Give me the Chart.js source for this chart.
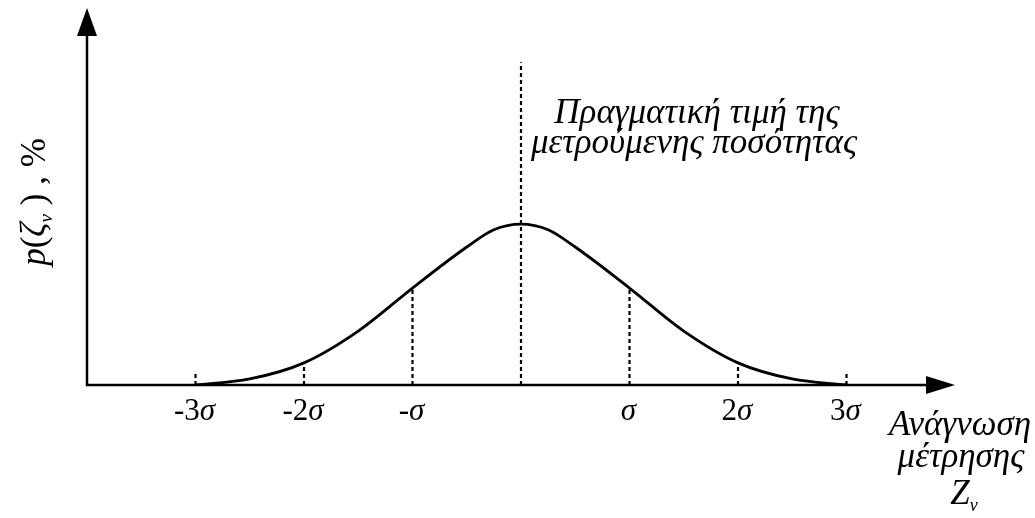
<!DOCTYPE html>
<html>
<head>
<meta charset="utf-8">
<script src="https://cdn.jsdelivr.net/npm/chart.js@4.4.1/dist/chart.umd.min.js"></script>
<style>
  body { margin: 0; background: #fff; }
  #wrap { width: 1035px; height: 518px; position: relative; }
</style>
</head>
<body>
<div id="wrap"><canvas id="bell"></canvas></div>
<script>
// reading position in units of sigma, and probability density (%)
const sigmaPos = [-3, -2.5, -2, -1.5, -1, -0.5, -0.25, 0, 0.25, 0.5, 1, 1.5, 2, 2.5, 3];
const density = [0, 1.5, 5.5, 13.4, 24.1, 34.3, 38.6, 40, 38.6, 34.3, 24.1, 13.4, 5.5, 1.5, 0];

// dashed guides: where they stand and how high they reach
const guideX = [-3, -2, -1, 0, 1, 2, 3];
const guideTop = [3, 5.5, 24.1, 80.2, 24.1, 5.5, 3];

// tick labels under the axis (number part, sigma part)
const tickNum = ['-3', '-2', '-', '', '', '2', '3'];
const tickSym = ['σ', 'σ', 'σ', '', 'σ', 'σ', 'σ'];

const annotLines = ['Πραγματική τιμή της', 'μετρούμενης ποσότητας'];
const xTitleLines = ['Ανάγνωση', 'μέτρησης'];

const SERIF = '"Liberation Serif", "Times New Roman", serif';

const guideSets = guideX.map((gx, i) => ({
  data: [{ x: gx, y: 0 }, { x: gx, y: guideTop[i] }],
  showLine: true,
  borderColor: '#000',
  borderWidth: 2.2,
  borderDash: [4, 3],
  pointRadius: 0,
  fill: false
}));

// draws text pieces in sequence, mixing roman/italic and subscripts
function drawPieces(ctx, pieces, x, y, align) {
  let total = 0;
  pieces.forEach(p => {
    ctx.font = p.font;
    p.w = ctx.measureText(p.t).width;
    total += p.w;
  });
  let cx = align === 'center' ? x - total / 2 : x;
  pieces.forEach(p => {
    ctx.font = p.font;
    ctx.fillText(p.t, cx, y + (p.dy || 0));
    cx += p.w;
  });
}

const axesPlugin = {
  id: 'axesPlugin',
  afterDraw(chart) {
    const ctx = chart.ctx;
    const xs = chart.scales.x, ys = chart.scales.y;
    const x0 = xs.getPixelForValue(-4);
    const x1 = xs.getPixelForValue(4);
    const y0 = ys.getPixelForValue(0);
    const y1 = ys.getPixelForValue(ys.max);
    ctx.save();
    ctx.strokeStyle = '#000';
    ctx.fillStyle = '#000';
    ctx.lineWidth = 2.5;
    // axis lines
    ctx.beginPath();
    ctx.moveTo(x0, y1 + 27);
    ctx.lineTo(x0, y0);
    ctx.lineTo(x1 - 28, y0);
    ctx.stroke();
    // arrow heads
    ctx.beginPath();
    ctx.moveTo(x0, y1);
    ctx.lineTo(x0 - 10, y1 + 28);
    ctx.lineTo(x0 + 10, y1 + 28);
    ctx.closePath();
    ctx.fill();
    ctx.beginPath();
    ctx.moveTo(x1, y0);
    ctx.lineTo(x1 - 29, y0 - 9);
    ctx.lineTo(x1 - 29, y0 + 9);
    ctx.closePath();
    ctx.fill();

    // tick labels
    ctx.textBaseline = 'alphabetic';
    guideX.forEach((gx, i) => {
      if (!tickSym[i]) return;
      drawPieces(ctx, [
        { t: tickNum[i], font: '31px ' + SERIF },
        { t: tickSym[i], font: 'italic 31px ' + SERIF }
      ], xs.getPixelForValue(gx) - 1, y0 + 35, 'center');
    });

    // annotation next to the centre line
    ctx.font = 'italic 35px ' + SERIF;
    ctx.textAlign = 'center';
    ctx.fillText(annotLines[0], 697, 123);
    ctx.fillText(annotLines[1], 694, 153);

    // x axis title
    ctx.font = 'italic 35px ' + SERIF;
    ctx.fillText(xTitleLines[0], 960, 435);
    ctx.fillText(xTitleLines[1], 961, 467);
    ctx.textAlign = 'left';
    drawPieces(ctx, [
      { t: 'Z', font: 'italic 35px ' + SERIF },
      { t: 'ν', font: 'italic 18px ' + SERIF, dy: 7 }
    ], 964, 504, 'center');

    // y axis title, rotated
    ctx.translate(45, 202);
    ctx.rotate(-Math.PI / 2);
    drawPieces(ctx, [
      { t: 'p', font: 'italic 35px ' + SERIF },
      { t: '(', font: '35px ' + SERIF },
      { t: 'ζ', font: 'italic 35px ' + SERIF },
      { t: 'ν', font: 'italic 19px ' + SERIF, dy: 7 },
      { t: ' ) , %', font: '35px ' + SERIF }
    ], 0, 0, 'center');
    ctx.restore();
  }
};

new Chart(document.getElementById('bell'), {
  type: 'scatter',
  data: {
    datasets: [
      {
        data: sigmaPos.map((s, i) => ({ x: s, y: density[i] })),
        showLine: true,
        borderColor: '#000',
        borderWidth: 2.8,
        pointRadius: 0,
        cubicInterpolationMode: 'monotone',
        fill: false
      },
      ...guideSets
    ]
  },
  options: {
    responsive: true,
    maintainAspectRatio: false,
    animation: false,
    layout: { padding: { left: 87, right: 80, top: 8, bottom: 133 } },
    plugins: { legend: { display: false }, tooltip: { enabled: false } },
    scales: {
      x: { type: 'linear', min: -4, max: 4, display: false },
      y: { type: 'linear', min: 0, max: 93.7, display: false }
    }
  },
  plugins: [axesPlugin]
});
</script>
</body>
</html>
